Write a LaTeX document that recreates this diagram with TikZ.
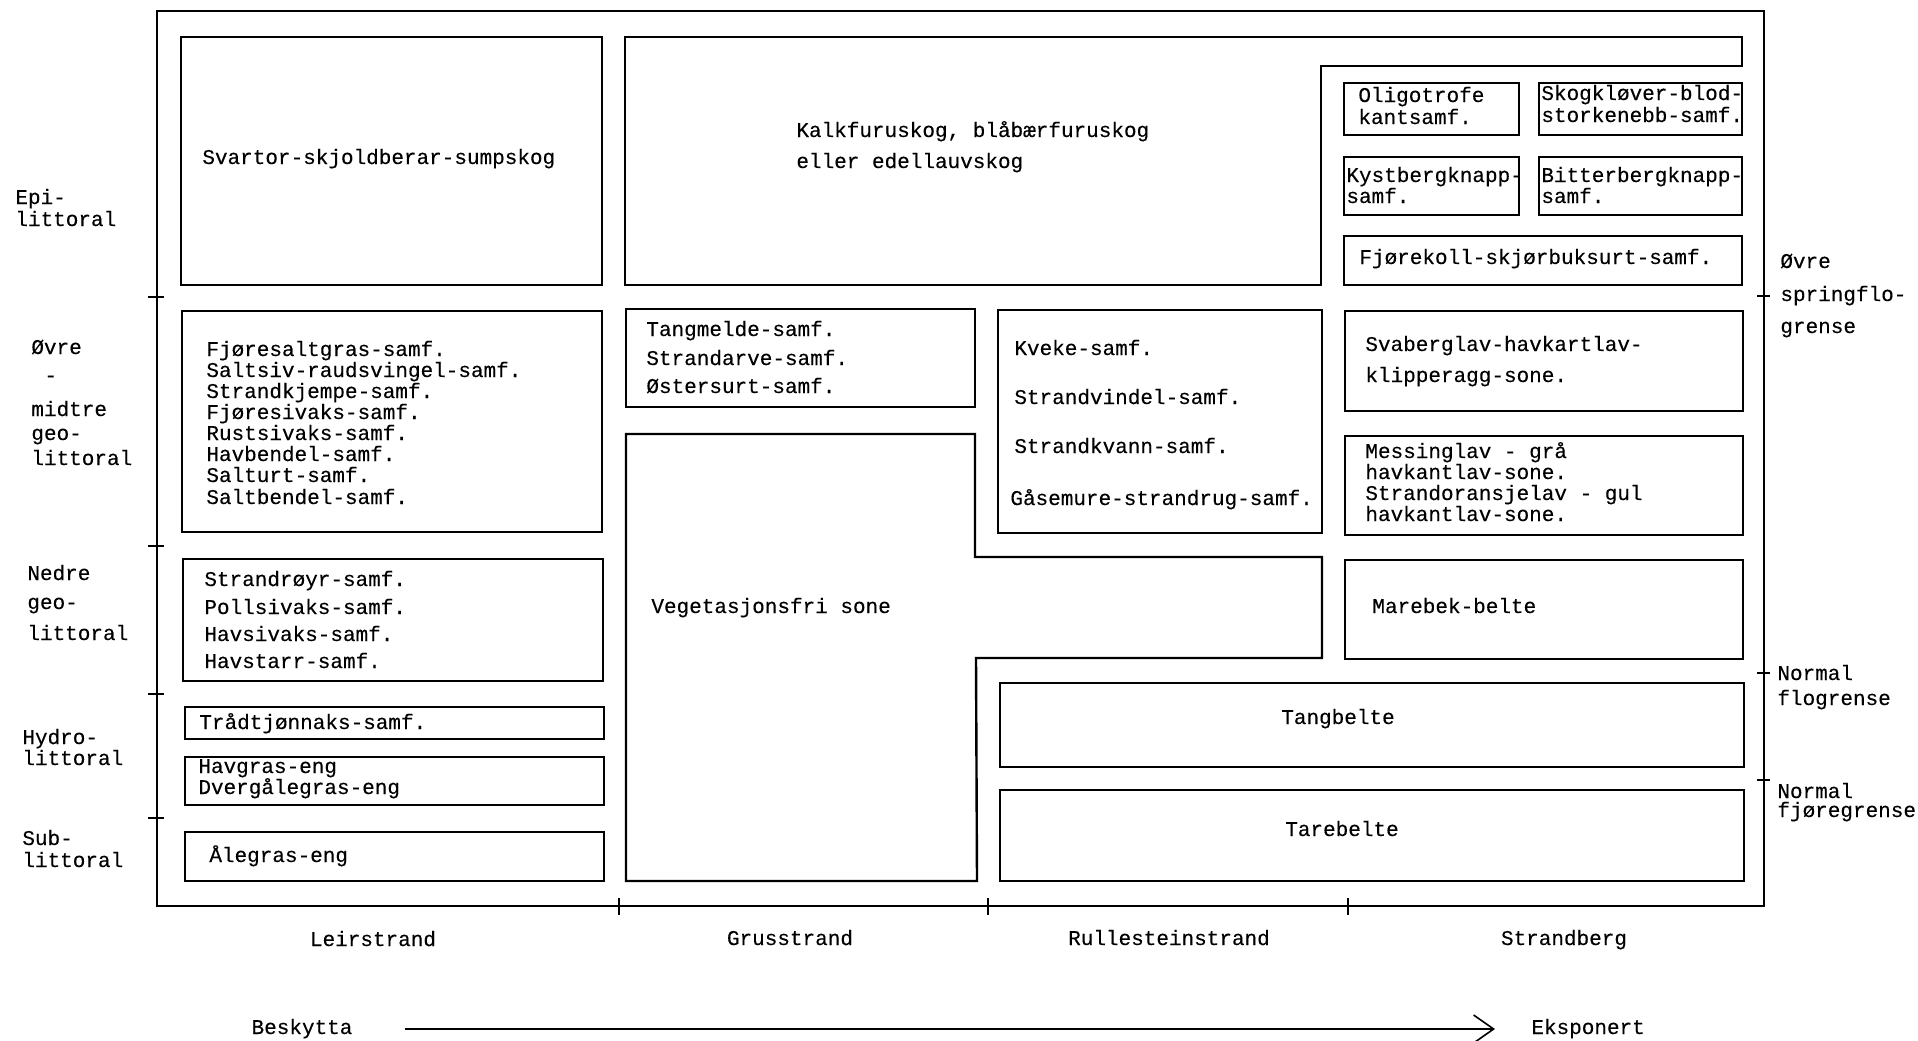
\documentclass[tikz,border=0pt]{standalone}
\usepackage{fontspec}
\newfontfamily\tw[FakeBold=0.2]{Liberation Mono}
\usetikzlibrary{fit,arrows.meta}
\begin{document}
\begin{tikzpicture}[x=0.5pt,y=-0.5pt,
  box/.style={draw, line width=1.2pt, inner sep=0pt, rectangle},
  outline/.style={draw, line width=1.2pt, line join=miter},
  frame/.style={line width=1.3pt},
  tickmark/.style={line width=1pt},
  txt/.style={font=\tw\fontsize{10.5pt}{12pt}\selectfont, inner sep=0pt, text height=7pt, text depth=2pt, anchor=west},
  ctxt/.style={txt, anchor=center}]
\useasboundingbox (0,0) rectangle (1918,1040);

% outer frame
\draw[frame] (157,11) rectangle (1764,906);
% left ticks
\foreach \yy in {297,546,694,818} \draw[tickmark] (148,\yy) -- (164,\yy);
% right ticks
\foreach \yy in {296,673,780} \draw[tickmark] (1757,\yy) -- (1770,\yy);
% bottom ticks
\foreach \xx in {619,988,1348} \draw[tickmark] (\xx,898) -- (\xx,915);

% ---------- boxes ----------
\node[box, fit={(181,37)(602,285)}] (svartor) {};
\draw[outline] (625,37) -- (1742,37) -- (1742,66) -- (1321,66) -- (1321,285) -- (625,285) -- cycle;
\node[box, fit={(1344,83)(1519,135)}] (oligo) {};
\node[box, fit={(1539,83)(1742,135)}] (skog) {};
\node[box, fit={(1344,157)(1519,215)}] (kyst) {};
\node[box, fit={(1539,157)(1742,215)}] (bitter) {};
\node[box, fit={(1344,236)(1742,285)}] (fjorekoll) {};

\node[box, fit={(182,311)(602,532)}] (fjoresalt) {};
\node[box, fit={(626,309)(975,407)}] (tangmelde) {};
\node[box, fit={(998,310)(1322,533)}] (kveke) {};
\node[box, fit={(1345,311)(1743,411)}] (svaberg) {};
\node[box, fit={(1345,436)(1743,535)}] (messing) {};

\draw[outline] (626,434) -- (975,434) -- (975,557) -- (1322,557) -- (1322,658) -- (976,658) -- (977,881) -- (626,881) -- cycle;
\node[box, fit={(1345,560)(1743,659)}] (marebek) {};

\node[box, fit={(183,559)(603,681)}] (strandroyr) {};
\node[box, fit={(185,707)(604,739)}] (tradtj) {};
\node[box, fit={(185,757)(604,805)}] (havgras) {};
\node[box, fit={(185,832)(604,881)}] (alegras) {};
\node[box, fit={(1000,683)(1744,767)}] (tangbelte) {};
\node[box, fit={(1000,790)(1744,881)}] (tarebelte) {};

% ---------- box texts ----------
\node[txt] (t-svartor) at (202,159) {Svartor-skjoldberar-sumpskog};
\node[txt] (t-kalk1) at (796,132) {Kalkfuruskog, blåbærfuruskog};
\node[txt] (t-kalk2) at (796,163) {eller edellauvskog};
\node[txt] (t-oligo1) at (1358,97) {Oligotrofe};
\node[txt] (t-oligo2) at (1358,119) {kantsamf.};
\node[txt] (t-skog1) at (1541,95) {Skogkløver-blod-};
\node[txt] (t-skog2) at (1541,117) {storkenebb-samf.};
\node[txt] (t-kyst1) at (1346,177) {Kystbergknapp-};
\node[txt] (t-kyst2) at (1346,198) {samf.};
\node[txt] (t-bitter1) at (1541,177) {Bitterbergknapp-};
\node[txt] (t-bitter2) at (1541,198) {samf.};
\node[txt] (t-fjorekoll) at (1359,259) {Fjørekoll-skjørbuksurt-samf.};

\node[txt] (t-fs1) at (206,351) {Fjøresaltgras-samf.};
\node[txt] (t-fs2) at (206,372) {Saltsiv-raudsvingel-samf.};
\node[txt] (t-fs3) at (206,393) {Strandkjempe-samf.};
\node[txt] (t-fs4) at (206,414) {Fjøresivaks-samf.};
\node[txt] (t-fs5) at (206,435) {Rustsivaks-samf.};
\node[txt] (t-fs6) at (206,456) {Havbendel-samf.};
\node[txt] (t-fs7) at (206,477) {Salturt-samf.};
\node[txt] (t-fs8) at (206,499) {Saltbendel-samf.};

\node[txt] (t-tm1) at (646,331) {Tangmelde-samf.};
\node[txt] (t-tm2) at (646,360) {Strandarve-samf.};
\node[txt] (t-tm3) at (646,388) {Østersurt-samf.};

\node[txt] (t-kv1) at (1014,350) {Kveke-samf.};
\node[txt] (t-kv2) at (1014,399) {Strandvindel-samf.};
\node[txt] (t-kv3) at (1014,448) {Strandkvann-samf.};
\node[txt] (t-kv4) at (1010,500) {Gåsemure-strandrug-samf.};

\node[txt] (t-sv1) at (1365,346) {Svaberglav-havkartlav-};
\node[txt] (t-sv2) at (1365,377) {klipperagg-sone.};

\node[txt] (t-me1) at (1365,453) {Messinglav - grå};
\node[txt] (t-me2) at (1365,474) {havkantlav-sone.};
\node[txt] (t-me3) at (1365,495) {Strandoransjelav - gul};
\node[txt] (t-me4) at (1365,516) {havkantlav-sone.};

\node[txt] (t-veget) at (651,608) {Vegetasjonsfri sone};
\node[txt] (t-marebek) at (1372,608) {Marebek-belte};

\node[txt] (t-sr1) at (204,581) {Strandrøyr-samf.};
\node[txt] (t-sr2) at (204,609) {Pollsivaks-samf.};
\node[txt] (t-sr3) at (204,636) {Havsivaks-samf.};
\node[txt] (t-sr4) at (204,663) {Havstarr-samf.};

\node[txt] (t-tradtj) at (199,724) {Trådtjønnaks-samf.};
\node[txt] (t-havgras1) at (198,768) {Havgras-eng};
\node[txt] (t-havgras2) at (198,789) {Dvergålegras-eng};
\node[txt] (t-alegras) at (209,857) {Ålegras-eng};

\node[ctxt] (t-tangbelte) at (1338,719) {Tangbelte};
\node[ctxt] (t-tarebelte) at (1342,831) {Tarebelte};

% ---------- left zone labels ----------
\node[txt] (l-epi1) at (15,199) {Epi-};
\node[txt] (l-epi2) at (15,221) {littoral};
\node[txt] (l-ov1) at (31,349) {Øvre};
\node[txt] (l-ov2) at (44,377) {-};
\node[txt] (l-ov3) at (31,411) {midtre};
\node[txt] (l-ov4) at (31,435) {geo-};
\node[txt] (l-ov5) at (31,460) {littoral};
\node[txt] (l-ne1) at (27,575) {Nedre};
\node[txt] (l-ne2) at (27,604) {geo-};
\node[txt] (l-ne3) at (27,635) {littoral};
\node[txt] (l-hy1) at (22,739) {Hydro-};
\node[txt] (l-hy2) at (22,760) {littoral};
\node[txt] (l-su1) at (22,840) {Sub-};
\node[txt] (l-su2) at (22,862) {littoral};

% ---------- right level labels ----------
\node[txt] (r-sp1) at (1780,263) {Øvre};
\node[txt] (r-sp2) at (1780,296) {springflo-};
\node[txt] (r-sp3) at (1780,328) {grense};
\node[txt] (r-fl1) at (1777,675) {Normal};
\node[txt] (r-fl2) at (1777,700) {flogrense};
\node[txt] (r-fj1) at (1777,793) {Normal};
\node[txt] (r-fj2) at (1777,812) {fjøregrense};

% ---------- bottom labels ----------
\node[ctxt] (b-leir) at (373,941) {Leirstrand};
\node[ctxt] (b-grus) at (790,940) {Grusstrand};
\node[ctxt] (b-rull) at (1169,940) {Rullesteinstrand};
\node[ctxt] (b-strb) at (1564,940) {Strandberg};

% ---------- exposure arrow ----------
\node[ctxt] (besk) at (302,1029) {Beskytta};
\node[txt] (eksp) at (1531,1029) {Eksponert};
\draw[line width=0.8pt, -{Straight Barb[length=10pt,width=14pt,line width=0.8pt]}, shorten <=26pt, shorten >=18pt] (besk.east) -- (eksp.west);
\end{tikzpicture}
\end{document}
